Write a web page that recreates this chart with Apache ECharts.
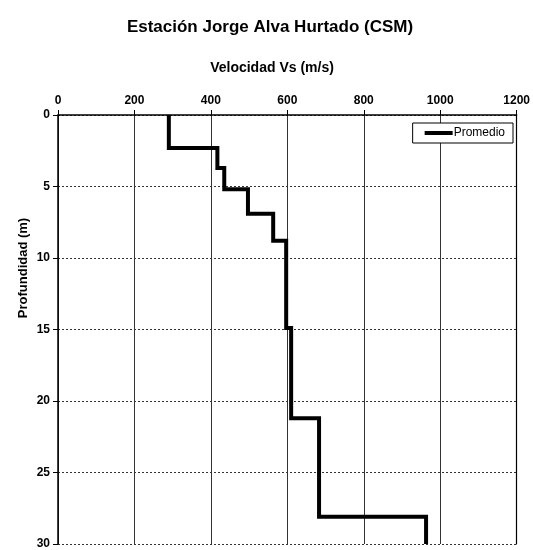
<!DOCTYPE html>
<html>
<head>
<meta charset="utf-8">
<script src="https://cdn.jsdelivr.net/npm/echarts@6/dist/echarts.min.js"></script>
<style>
html,body{margin:0;padding:0;background:#fff;}
#chart{width:533px;height:550px;}
</style>
</head>
<body>
<div id="chart"></div>
<script>
// Data
var titleText = 'Estación Jorge Alva Hurtado (CSM)';
var xAxisTitle = 'Velocidad Vs (m/s)';
var yAxisTitle = 'Profundidad (m)';
var seriesName = 'Promedio';
// layer boundaries (depth, m) and layer velocities (m/s)
var depthBounds = [0, 2.3, 3.7, 5.2, 6.9, 8.8, 14.9, 21.2, 28.1, 30];
var velocities = [290, 417, 435, 497, 563, 597, 610, 683, 963];
var xTicks = [0, 200, 400, 600, 800, 1000, 1200];
var yTicks = [0, 5, 10, 15, 20, 25, 30];

var stepPoints = [];
for (var i = 0; i < velocities.length; i++) {
  stepPoints.push([velocities[i], depthBounds[i]]);
  stepPoints.push([velocities[i], depthBounds[i + 1]]);
}

var FONT = '"Liberation Sans", Arial, Helvetica, sans-serif';
var chart = echarts.init(document.getElementById('chart'), null, {renderer: 'canvas'});
chart.setOption({
  backgroundColor: '#ffffff',
  animation: false,
  grid: {left: 58, right: 14, top: 115, bottom: 2, containLabel: false},
  xAxis: {
    type: 'value', position: 'top',
    min: xTicks[0], max: xTicks[xTicks.length - 1], interval: 200,
    axisLine: {show: true, onZero: false, lineStyle: {color: '#000', width: 1.5}},
    axisTick: {show: true, length: 5, lineStyle: {color: '#000'}},
    axisLabel: {color: '#000', fontFamily: FONT, fontWeight: 'bold', fontSize: 12, margin: 8,
      formatter: function (v) { return String(v); }},
    splitLine: {show: true, lineStyle: {color: '#333', width: 1, type: 'solid'}}
  },
  yAxis: [{
    type: 'value', inverse: true,
    min: yTicks[0], max: yTicks[yTicks.length - 1], interval: 5,
    axisLine: {show: true, onZero: false, lineStyle: {color: '#000', width: 1.5}},
    axisTick: {show: true, length: 5, lineStyle: {color: '#000'}},
    axisLabel: {color: '#000', fontFamily: FONT, fontWeight: 'bold', fontSize: 12, margin: 8,
      formatter: function (v) { return String(v); }},
    splitLine: {show: true, lineStyle: {color: '#333', width: 1, type: [2, 2]}}
  }, {
    type: 'value', inverse: true, position: 'right',
    min: yTicks[0], max: yTicks[yTicks.length - 1], interval: 5,
    axisLine: {show: true, onZero: false, lineStyle: {color: '#000', width: 1.2}},
    axisTick: {show: false}, axisLabel: {show: false}, splitLine: {show: false}
  }],
  legend: {
    show: true, right: 20, top: 123,
    data: [seriesName],
    icon: 'rect', itemWidth: 28, itemHeight: 4, itemGap: 0,
    borderColor: '#000', borderWidth: 1, borderRadius: 0,
    padding: [4, 8, 4, 12],
    backgroundColor: '#fff',
    textStyle: {color: '#000', fontFamily: FONT, fontSize: 12, padding: [0, 0, 0, -4]}
  },
  series: [{
    name: seriesName, type: 'line',
    data: stepPoints,
    showSymbol: false, symbol: 'none',
    lineStyle: {color: '#000', width: 4, join: 'miter'},
    itemStyle: {color: '#000'},
    z: 5
  }],
  graphic: [
    {type: 'text', x: 270, y: 27, style: {text: titleText, textAlign: 'center', textVerticalAlign: 'middle', font: 'bold 17px ' + FONT, fill: '#000'}},
    {type: 'text', x: 272, y: 68, style: {text: xAxisTitle, textAlign: 'center', textVerticalAlign: 'middle', font: 'bold 14px ' + FONT, fill: '#000'}},
    {type: 'text', x: 23, y: 268, rotation: Math.PI / 2, style: {text: yAxisTitle, textAlign: 'center', textVerticalAlign: 'middle', font: 'bold 13px ' + FONT, fill: '#000'}}
  ]
});
</script>
</body>
</html>
